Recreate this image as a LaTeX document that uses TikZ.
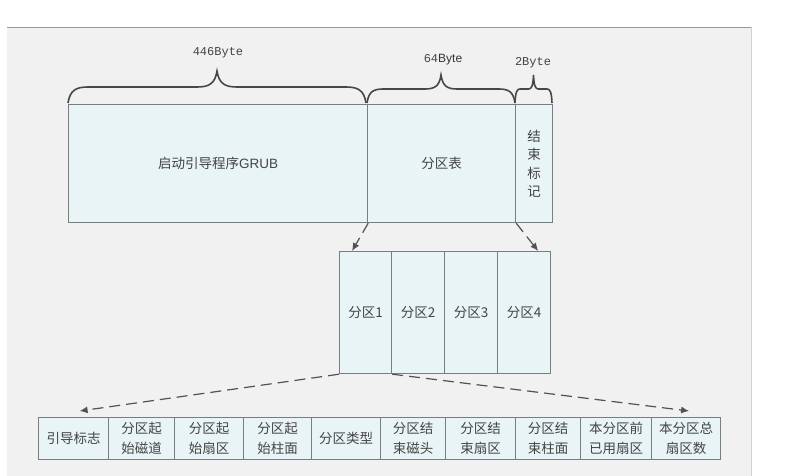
\documentclass[tikz,border=0pt]{standalone}
\usepackage{fontspec}
\setmainfont{Liberation Sans}
\newfontfamily\cjk{Noto Sans CJK SC}
\newfontfamily\latinsans{Liberation Sans}
\newfontfamily\monof{Liberation Mono}
\usetikzlibrary{arrows.meta}

\definecolor{boxfill}{HTML}{E8F4F6}
\definecolor{boxline}{HTML}{767E7E}
\definecolor{bgpanel}{HTML}{F1F1F1}
\definecolor{txt}{HTML}{444444}

\tikzset{
  cell/.style={draw=boxline, fill=boxfill, line width=1.2pt, inner sep=0pt, anchor=north west,
    text=txt, align=center, font=\cjk\fontsize{13.5}{20}\selectfont},
  ptr/.style={draw=black!68, line width=1.2pt, dash pattern=on 11pt off 6pt,
    -{Latex[length=8pt,width=7pt]}},
  bytelabel/.style={text=txt, font=\monof\fontsize{12}{14}\selectfont},
  bytebr/.style={draw=black!72, line width=1.6pt}
}

% brace over a field: x1, x2, base y, half height, corner
\newcommand{\bytebrace}[5]{%
  \pgfmathsetmacro{\bmid}{(#1+#2)/2}
  \draw[bytebr] (#1,#3) .. controls ({#1+0.1*#5},{#3-0.8*#4}) and ({#1+0.4*#5},{#3-#4}) .. ({#1+#5},{#3-#4})
    -- ({\bmid-#5},{#3-#4}) .. controls ({\bmid-0.4*#5},{#3-#4}) and ({\bmid-0.1*#5},{#3-1.2*#4}) .. (\bmid,{#3-2*#4})
    .. controls ({\bmid+0.1*#5},{#3-1.2*#4}) and ({\bmid+0.4*#5},{#3-#4}) .. ({\bmid+#5},{#3-#4})
    -- ({#2-#5},{#3-#4}) .. controls ({#2-0.4*#5},{#3-#4}) and ({#2-0.1*#5},{#3-0.8*#4}) .. (#2,#3);
}

\begin{document}
\begin{tikzpicture}[x=1pt, y=-1pt]
\useasboundingbox (0,0) rectangle (789,476);
\fill[bgpanel] (7,27) rectangle (751,476);
\draw[black!40, line width=0.8pt] (7,27) -- (751,27);
\draw[black!18, line width=0.8pt] (751,27) -- (751,476);

% MBR
\node[cell, minimum width=299pt, minimum height=118pt] (grub) at (68,104) {启动引导程序{\latinsans GRUB}};
\node[cell, minimum width=148pt, minimum height=118pt] (tab) at (367,104) {分区表};
\node[cell, minimum width=37pt, minimum height=118pt, font=\cjk\fontsize{13.5}{18.5}\selectfont] (endm) at (515,104) {结\\束\\标\\记};

\bytebrace{68}{366}{103}{16}{20}
\bytebrace{367}{515}{103}{14}{16}
\bytebrace{515}{552}{103}{14}{5}
\node[bytelabel] (b446) at (218,53) {446Byte};
\node[bytelabel] (b64) at (443,60) {64{\latinsans\color{black!80}Byte}};
\node[bytelabel] (b2) at (533,63) {2Byte};

% partition table
\node[cell, minimum width=52pt, minimum height=122pt] (p1) at (339,251) {分区1};
\node[cell, minimum width=53pt, minimum height=122pt] (p2) at (391,251) {分区2};
\node[cell, minimum width=53pt, minimum height=122pt] (p3) at (444,251) {分区3};
\node[cell, minimum width=53pt, minimum height=122pt] (p4) at (497,251) {分区4};

% partition entry
\node[cell, minimum width=70pt, minimum height=42pt] (f1) at (38,417) {引导标志};
\node[cell, minimum width=66pt, minimum height=42pt] (f2) at (108,417) {分区起\\始磁道};
\node[cell, minimum width=69pt, minimum height=42pt] (f3) at (174,417) {分区起\\始扇区};
\node[cell, minimum width=68pt, minimum height=42pt] (f4) at (243,417) {分区起\\始柱面};
\node[cell, minimum width=69pt, minimum height=42pt] (f5) at (311,417) {分区类型};
\node[cell, minimum width=65pt, minimum height=42pt] (f6) at (380,417) {分区结\\束磁头};
\node[cell, minimum width=70pt, minimum height=42pt] (f7) at (445,417) {分区结\\束扇区};
\node[cell, minimum width=65pt, minimum height=42pt] (f8) at (515,417) {分区结\\束柱面};
\node[cell, minimum width=71pt, minimum height=42pt] (f9) at (580,417) {本分区前\\已用扇区};
\node[cell, minimum width=69pt, minimum height=42pt] (f10) at (651,417) {本分区总\\扇区数};

\draw[ptr] (grub.south east) -- ([xshift=13pt]p1.north west);
\draw[ptr] (tab.south east) -- ([xshift=-13pt]p4.north east);
\draw[ptr] (p1.south west) -- ([xshift=6pt,yshift=6pt]f1.north);
\draw[ptr] (p1.south east) -- ([xshift=3pt,yshift=6pt]f10.north);
\end{tikzpicture}
\end{document}
